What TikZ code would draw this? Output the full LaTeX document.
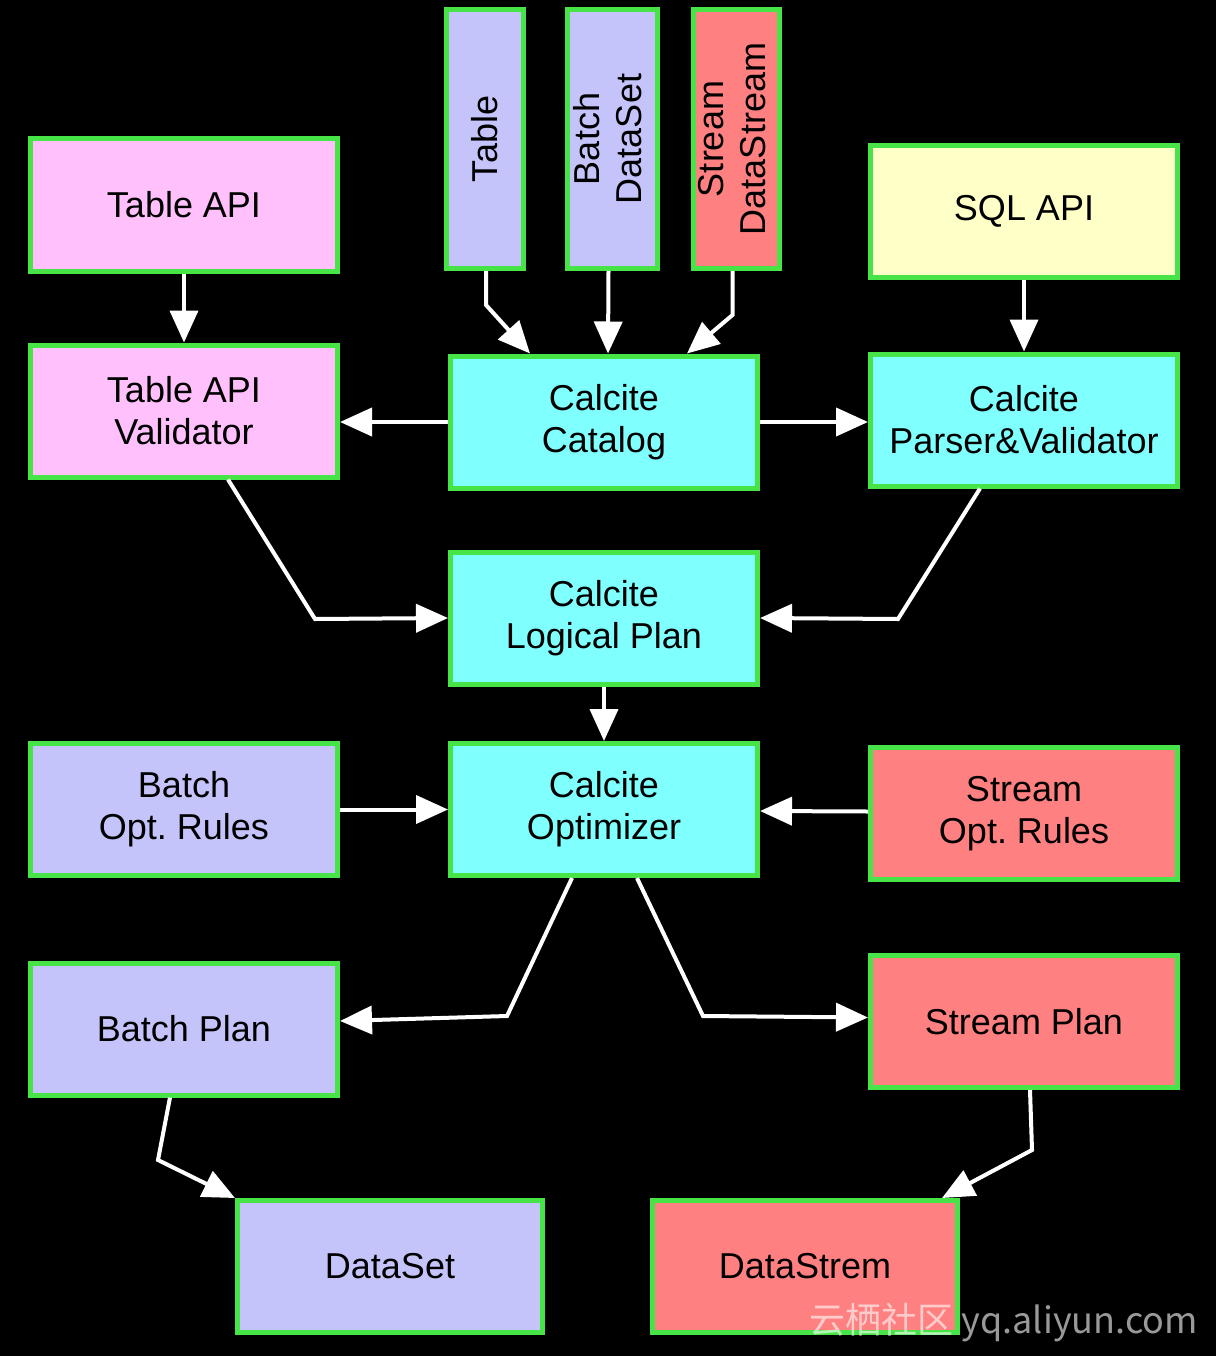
\documentclass[tikz,border=0pt]{standalone}
\usepackage{fontspec}
\setmainfont{Liberation Sans}
\newfontfamily\cjkwm{Noto Sans CJK SC}
\usetikzlibrary{arrows.meta,calc}
\definecolor{boxgreen}{RGB}{70,228,70}
\definecolor{pinkbox}{RGB}{255,192,252}
\definecolor{lavbox}{RGB}{196,196,250}
\definecolor{salbox}{RGB}{255,128,128}
\definecolor{yelbox}{RGB}{255,255,200}
\definecolor{cyanbox}{RGB}{128,255,255}
\frenchspacing
\tikzset{
  box/.style={draw=boxgreen, line width=5pt, minimum width=307pt, minimum height=132pt,
    inner sep=0pt, text=black, align=center, font=\fontsize{36}{42}\selectfont},
  tallbox/.style={box, minimum height=259pt},
  conn/.style={draw=white, line width=4pt, line join=miter,
    -{Triangle[length=32pt,width=28pt]}, white}
}
\begin{document}
\begin{tikzpicture}[x=1pt,y=-1pt]
\fill[black] (0,0) rectangle (1216,1356);
\useasboundingbox (0,0) rectangle (1216,1356);

\node[box, fill=pinkbox] (tapi) at (184,205) {Table API};
\node[box, fill=pinkbox] (tval) at (184,411) {Table API\\Validator};
\node[tallbox, fill=lavbox, minimum width=77pt] (table) at (485,139) {\rotatebox{90}{Table}};
\node[tallbox, fill=lavbox, minimum width=90pt] (bds) at (612.5,139)
  {\rotatebox{90}{\begin{tabular}{@{}c@{}}Batch\\DataSet\end{tabular}}};
\node[tallbox, fill=salbox, minimum width=86pt] (sds) at (736.5,139)
  {\rotatebox{90}{\begin{tabular}{@{}c@{}}Stream\\DataStream\end{tabular}}};
\node[box, fill=yelbox] (sql) at (1024,211.5) {SQL API};
\node[box, fill=cyanbox] (cat) at (604,422) {Calcite\\Catalog};
\node[box, fill=cyanbox] (parser) at (1024,420) {Calcite\\Parser\&Validator};
\node[box, fill=cyanbox] (logical) at (604,618) {Calcite\\Logical Plan};
\node[box, fill=lavbox] (bopt) at (184,809.5) {Batch\\Opt. Rules};
\node[box, fill=cyanbox] (opt) at (604,809.5) {Calcite\\Optimizer};
\node[box, fill=salbox] (sopt) at (1024,813.5) {Stream\\Opt. Rules};
\node[box, fill=lavbox] (bplan) at (184,1029) {Batch Plan};
\node[box, fill=salbox] (splan) at (1024,1021.5) {Stream Plan};
\node[box, fill=lavbox, minimum width=305pt] (dataset) at (390,1266.5) {DataSet};
\node[box, fill=salbox, minimum width=305pt] (datastrem) at (805,1266.5) {DataStrem};

% connectors
\draw[conn] (tapi.south) -- (tval.north);
\draw[conn] (cat.west) -- (tval.east |- cat.west);
\draw[conn] (cat.east) -- (parser.west |- cat.east);
\draw[conn] (sql.south) -- (parser.north);
\draw[conn] ($(table.south)+(1,0)$) -- ++(0,34) -- ($(cat.north west)+(82,0)$);
\draw[conn] ($(bds.south)+(-4,0)$) -- ($(cat.north west)+(160,0)$);
\draw[conn] ($(sds.south)+(-4,0)$) -- ++(0,44) -- ($(cat.north east)+(-73,0)$);
\coordinate (b1) at (315,619);
\draw[conn] ($(tval.south west)+(200,0)$) -- (b1) -- (logical.west);
\coordinate (b2) at (898,619);
\draw[conn] ($(parser.south west)+(112,0)$) -- (b2) -- (logical.east);
\draw[conn] (logical.south) -- (opt.north);
\draw[conn] (bopt.east) -- (opt.west |- bopt.east);
\draw[conn] ($(sopt.west)+(0,-2)$) -- ($(opt.east)+(0,1.5)$);
\coordinate (b3) at (507,1016);
\draw[conn] ($(opt.south west)+(124,0)$) -- (b3) -- ($(bplan.east)+(0,-8)$);
\coordinate (b4) at (703,1016);
\draw[conn] ($(opt.south west)+(189,0)$) -- (b4) -- ($(splan.west)+(0,-4)$);
\coordinate (b5) at (158,1160);
\draw[conn] ($(bplan.south west)+(142,0)$) -- (b5) -- (dataset.north west);
\coordinate (b6) at (1032,1150);
\draw[conn] ($(splan.south west)+(162,0)$) -- (b6) -- ($(datastrem.north east)+(-18,0)$);

% watermark
\node[text=white, opacity=0.6, font=\cjkwm\fontsize{36}{40}\selectfont, anchor=east, inner sep=0pt]
  (wm) at (1198,1323) {云栖社区 yq.aliyun.com};
\end{tikzpicture}
\end{document}
